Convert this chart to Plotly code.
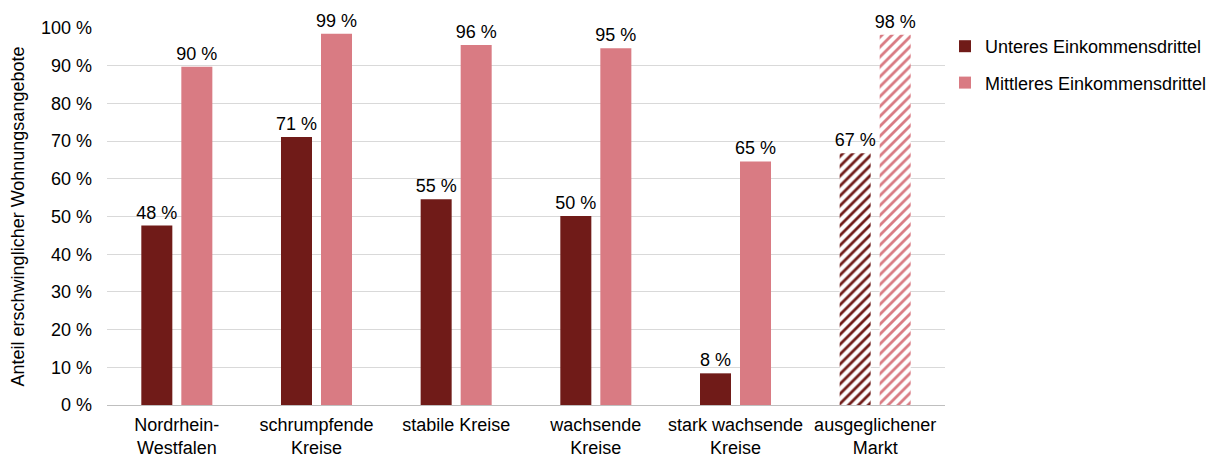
import plotly.graph_objects as go

categories = ["Nordrhein-<br>Westfalen", "schrumpfende<br>Kreise", "stabile Kreise",
              "wachsende<br>Kreise", "stark wachsende<br>Kreise", "ausgeglichener<br>Markt"]
unteres = [47.6, 71.1, 54.6, 50.1, 8.4, 66.8]
mittleres = [89.7, 98.5, 95.5, 94.6, 64.6, 98.2]
tick_vals = [0, 10, 20, 30, 40, 50, 60, 70, 80, 90, 100]
tick_text = [f"{v} %" for v in tick_vals]
patterns = ["", "", "", "", "", "/"]

dark = "#701B18"
pink = "#D97B83"
font = "Liberation Sans, Arial, sans-serif"
fs = 18

fig = go.Figure()
for name, vals, col in [("Unteres Einkommensdrittel", unteres, dark),
                        ("Mittleres Einkommensdrittel", mittleres, pink)]:
    fig.add_trace(go.Bar(
        x=categories, y=vals, name=name, legendgroup=name,
        marker=dict(color=col, line=dict(width=0),
                    pattern=dict(shape=patterns, fillmode="replace", fgcolor=col,
                                 bgcolor="white", size=7, solidity=0.4)),
        texttemplate="%{y:.0f} %", textposition="outside",
        textfont=dict(size=fs, color="black", family=font),
        constraintext="none",
        cliponaxis=False,
    ))

fig.update_layout(
    width=1212, height=449,
    margin=dict(l=99, r=275, t=20, b=52, autoexpand=False),
    plot_bgcolor="white", paper_bgcolor="white",
    barmode="group", bargap=0.427, bargroupgap=0.225,
    font=dict(family=font, size=fs, color="black"),
    legend=dict(x=1.0, y=1.0, xanchor="left", yanchor="top",
                font=dict(size=fs), itemsizing="constant",
                traceorder="grouped", tracegroupgap=10,
                bgcolor="rgba(0,0,0,0)"),
    yaxis=dict(range=[0, 100], tickvals=tick_vals, ticktext=tick_text,
               showgrid=True, gridcolor="#D9D9D9", gridwidth=1,
               zeroline=False, ticks="", ticklen=0, automargin=False,
               ticklabelstandoff=14,
               title=dict(text="Anteil erschwinglicher Wohnungsangebote",
                          font=dict(size=fs), standoff=12)),
    xaxis=dict(showline=True, linecolor="#BFBFBF", linewidth=1, ticks="",
               tickfont=dict(size=fs), automargin=False, ticklabelstandoff=3),
)
fig.write_html("out.html")
